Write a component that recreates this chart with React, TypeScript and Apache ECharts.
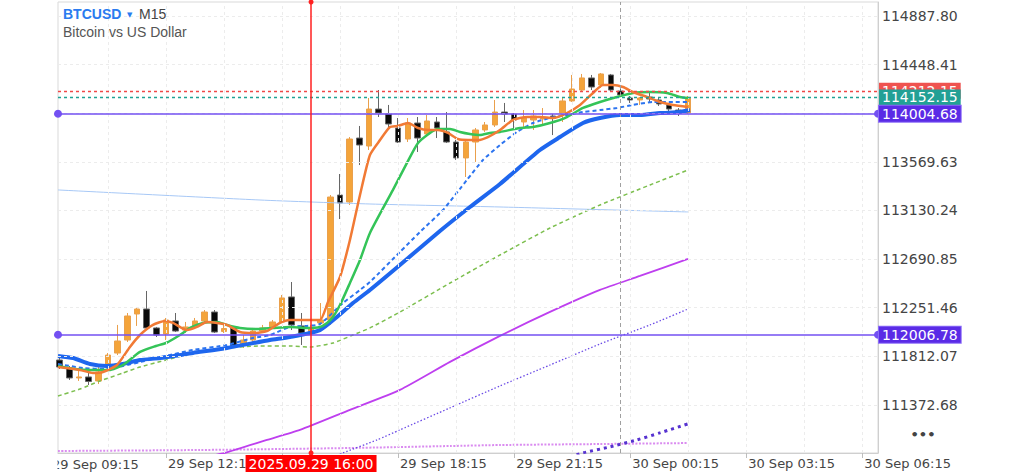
import React, { useEffect, useRef } from 'react';
import * as echarts from 'echarts';

// ---- axis ticks ----
const xTickIdx = [0, 12, 24, 36, 48, 60, 72, 84];
const xTickLabels = ['29 Sep 09:15', '29 Sep 12:15', '29 Sep 15:15', '29 Sep 18:15', '29 Sep 21:15', '30 Sep 00:15', '30 Sep 03:15', '30 Sep 06:15'];
const xShownIdx = [12, 36, 48, 60, 72, 84];
const xGridIdx = [6, 12, 18, 24, 30, 36, 42, 48, 54, 60, 66, 72, 78, 84];
const yTicks = [111372.68, 111812.07, 112251.46, 112690.85, 113130.24, 113569.63, 114008.02, 114448.41, 114887.8];
const yShown = [111372.68, 111812.07, 112251.46, 112690.85, 113130.24, 113569.63, 114448.41, 114887.8];

// ---- candles (bar index: 0 = 29 Sep 09:15, 15-minute bars) ----
const candleIdx = [1, 2, 3, 4, 5, 6, 7, 8, 9, 10, 11, 12, 13, 14, 15, 16, 17, 18, 19, 20, 21, 22, 23, 24, 25, 26, 27, 28, 29, 30, 31, 32, 33, 34, 35, 36, 37, 38, 39, 40, 41, 42, 43, 44, 45, 46, 47, 48, 49, 50, 51, 52, 53, 54, 55, 56, 57, 58, 59, 60, 61, 62, 63, 64, 65, 66];
const candleOpen = [111779, 111707, 111617, 111626, 111590, 111725, 111842, 111960, 112195, 112240, 112069, 112014, 112132, 112050, 112087, 112132, 112213, 112037, 112069, 111924, 111960, 112041, 112078, 112123, 112349, 112087, 112032, 112114, 112141, 113270, 113207, 113785, 113713, 114047, 114002, 113876, 113776, 113921, 113822, 113930, 113840, 113749, 113605, 113749, 113858, 113903, 114020, 114002, 113930, 113948, 113957, 113984, 114011, 114120, 114219, 114328, 114264, 114355, 114210, 114147, 114129, 114156, 114129, 114084, 114038, 114011];
const candleClose = [111716, 111617, 111626, 111585, 111671, 111824, 111951, 112177, 112240, 112069, 112005, 112141, 112041, 112078, 112132, 112213, 112032, 112064, 111906, 111960, 112041, 112069, 112123, 112340, 112096, 112023, 112060, 112141, 113252, 113198, 113776, 113722, 114047, 114011, 113912, 113749, 113921, 113785, 113939, 113876, 113749, 113605, 113749, 113858, 113903, 114020, 114002, 113948, 113966, 113984, 113975, 113966, 114120, 114228, 114328, 114246, 114364, 114219, 114174, 114129, 114147, 114138, 114093, 114047, 114016, 114152.15];
const candleLow = [111698, 111599, 111590, 111553, 111562, 111707, 111824, 111942, 112087, 112050, 111987, 111960, 112032, 112023, 112069, 112114, 112023, 112023, 111897, 111888, 111942, 112023, 112059, 112114, 112050, 111915, 112005, 112096, 112096, 113053, 113180, 113541, 113677, 113975, 113876, 113740, 113749, 113659, 113794, 113785, 113740, 113587, 113433, 113569, 113840, 113885, 113930, 113876, 113885, 113858, 113903, 113812, 113930, 114111, 114201, 114219, 114237, 114201, 114156, 114102, 114084, 114102, 114075, 114020, 113984, 114002];
const candleHigh = [111797, 111725, 111707, 111662, 111734, 111842, 112096, 112204, 112249, 112403, 112078, 112159, 112204, 112123, 112159, 112231, 112231, 112096, 112078, 112005, 112069, 112096, 112141, 112367, 112484, 112204, 112096, 112294, 113270, 113460, 113794, 113894, 114147, 114219, 114084, 113966, 113966, 113975, 113993, 113975, 114020, 113767, 113767, 113876, 113930, 114129, 114102, 114011, 114038, 114038, 114056, 114011, 114147, 114355, 114364, 114355, 114373, 114364, 114237, 114165, 114156, 114201, 114147, 114102, 114056, 114165];

// ---- moving averages, read as [bar index, price] ----
const maOrange = [[0.83, 111716], [3.1, 111689], [4.45, 111662], [5.48, 111671], [6.93, 111734], [8.27, 111897], [9.31, 112005], [10.65, 112096], [11.89, 112132], [12.72, 112114], [14.17, 112050], [15.2, 112078], [16.24, 112123], [17.27, 112114], [18.3, 112096], [19.65, 112032], [20.99, 112023], [22.44, 112041], [23.78, 112114], [24.82, 112141], [26.58, 112141], [27.92, 112141], [28.75, 112303], [29.99, 112529], [31.02, 112864], [32.06, 113270], [33.09, 113632], [34.13, 113767], [35.16, 113885], [35.99, 113894], [37.02, 113921], [38.06, 113876], [39.09, 113858], [40.12, 113858], [41.16, 113831], [42.19, 113776], [43.23, 113767], [44.26, 113767], [45.29, 113794], [46.54, 113858], [47.88, 113948], [49.33, 113975], [50.67, 113975], [52.02, 113966], [53.46, 114011], [54.81, 114084], [56.15, 114192], [57.19, 114264], [58.22, 114264], [59.26, 114246], [60.29, 114201], [61.74, 114156], [63.08, 114111], [64.43, 114084], [65.98, 114066]];
const maGreen = [[0.83, 111725], [2.59, 111698], [4.03, 111689], [6.1, 111689], [7.55, 111734], [9.31, 111852], [10.96, 111906], [12.0, 111933], [13.44, 112005], [14.48, 112069], [15.82, 112114], [17.27, 112123], [18.3, 112096], [19.65, 112069], [21.41, 112060], [23.06, 112069], [24.82, 112078], [26.58, 112069], [27.92, 112078], [28.65, 112114], [29.27, 112168], [29.99, 112276], [31.02, 112475], [32.06, 112683], [33.09, 112927], [35.47, 113316], [36.92, 113560], [38.06, 113740], [39.3, 113831], [40.12, 113867], [41.37, 113867], [42.4, 113840], [43.43, 113822], [44.47, 113813], [45.5, 113831], [46.54, 113840], [48.6, 113876], [49.95, 113885], [51.71, 113921], [53.46, 113975], [55.12, 114057], [56.88, 114111], [58.63, 114156], [60.29, 114192], [62.05, 114201], [63.81, 114192], [65.15, 114156], [65.98, 114147]];
const maBlueDashed = [[0.83, 111743], [3.41, 111707], [5.79, 111698], [7.55, 111725], [9.31, 111761], [12.0, 111816], [14.79, 111870], [18.3, 111915], [20.99, 111978], [22.75, 112005], [24.82, 112078], [26.58, 112087], [27.92, 112105], [30.3, 112294], [32.06, 112412], [33.09, 112484], [36.19, 112755], [38.26, 112936], [40.64, 113135], [43.12, 113406], [44.78, 113587], [46.54, 113722], [48.29, 113840], [49.95, 113921], [51.71, 113966], [53.46, 113993], [55.12, 114020], [56.88, 114038], [58.63, 114057], [60.29, 114084], [62.36, 114111], [64.43, 114111], [66.18, 114111]];
const maBlueThick = [[0.83, 111816], [2.38, 111797], [4.14, 111743], [5.89, 111725], [7.55, 111743], [9.31, 111779], [11.38, 111797], [14.79, 111843], [18.3, 111888], [22.75, 111960], [24.82, 111987], [27.92, 112050], [29.68, 112168], [31.33, 112294], [33.09, 112412], [36.19, 112638], [40.33, 112945], [43.43, 113162], [46.54, 113370], [50.67, 113677], [52.74, 113794], [55.12, 113921], [56.88, 113966], [58.94, 113993], [61.01, 113993], [63.08, 114011], [65.15, 114020], [66.18, 114038]];
const maGreenDashed = [[0.83, 111454], [3.1, 111517], [5.17, 111590], [7.55, 111662], [9.31, 111716], [12.0, 111779], [14.48, 111834], [18.3, 111888], [21.72, 111906], [24.82, 111906], [26.89, 111897], [29.27, 111933], [31.33, 112005], [33.09, 112069], [36.19, 112213], [41.37, 112475], [46.54, 112728], [51.71, 112972], [56.88, 113180], [62.05, 113361], [65.98, 113496]];
const maLightBlue = [[0.83, 113316], [21.72, 113225], [33.09, 113189], [46.54, 113162], [65.98, 113117]];
const maMagenta = [[15.51, 110894], [18.1, 110940], [22.44, 111057], [25.85, 111148], [31.02, 111329], [36.19, 111509], [41.37, 111762], [46.54, 111997], [51.71, 112214], [56.88, 112413], [61.01, 112539], [65.98, 112693]];
const maPurpleDotted = [[28.96, 110894], [30.3, 110940], [33.82, 111057], [36.19, 111148], [41.37, 111347], [46.54, 111545], [51.71, 111734], [56.88, 111924], [62.05, 112096], [65.98, 112240]];
const maPurpleThick = [[53.77, 110903], [55.12, 110940], [57.91, 110994], [60.7, 111057], [63.08, 111121], [65.98, 111202]];
const maPinkDotted = [[0.83, 110957], [15.51, 110966], [31.02, 110984], [41.37, 111002], [46.54, 111011], [56.88, 111020], [65.98, 111029]];

// ---- price levels / markers ----
const askPrice = 114212.15;
const bidPrice = 114152.15;
const levelPrices = [114004.68, 112006.78];
const markerIdx = 27;
const markerLabel = '2025.09.29 16:00';
const daySepIdx = 59;

const X_MIN = 0.83;
const X_MAX = 85.63;
const Y_MIN = 110938.9;
const Y_MAX = 115014.3;

const AXIS_FONT = '"DejaVu Sans", sans-serif';
const TITLE_FONT = '"Liberation Sans", Arial, sans-serif';

const line = (name: string, data: number[][], color: string, width: number, type: any, z: number) => ({
  name,
  type: 'line',
  data,
  color,
  showSymbol: false,
  symbol: 'none',
  smooth: 0.2,
  silent: true,
  z,
  lineStyle: { color, width, type, cap: 'butt' },
});

const tagLabel = (text: string, bg: string, distance: number, extra: any = {}) => ({
  show: true,
  position: 'end',
  formatter: text,
  color: '#ffffff',
  backgroundColor: bg,
  padding: [1, 3],
  fontSize: 14,
  lineHeight: 14,
  fontFamily: AXIS_FONT,
  distance,
  ...extra,
});

const hLevel = (name: string, value: number, color: string, lineType: any, z: number, label: any, symbol: any, symbolSize: number, width: number) => ({
  name,
  type: 'line',
  data: [],
  color,
  itemStyle: { color },
  z,
  markLine: {
    silent: true,
    symbol,
    symbolSize,
    itemStyle: { color },
    lineStyle: { color, type: lineType, width, opacity: 1 },
    label,
    data: [{ yAxis: value, lineStyle: { color, type: lineType, width, opacity: 1 } }],
  },
});

export default function App() {
  const ref = useRef<HTMLDivElement>(null);
  useEffect(() => {
    document.body.style.margin = '0';
    const chart = echarts.init(ref.current!, undefined, { renderer: 'svg' });
    const candleData = candleIdx.map((x, i) => [x, candleOpen[i], candleClose[i], candleLow[i], candleHigh[i]]);
    const option: any = {
      animation: false,
      textStyle: { fontFamily: AXIS_FONT },
      grid: { left: 58, right: 146, top: 2, bottom: 20, show: true, borderColor: '#d9d9d9', borderWidth: 1 },
      xAxis: {
        type: 'value',
        min: X_MIN,
        max: X_MAX,
        splitLine: { show: false },
        axisLine: { show: true, lineStyle: { color: '#cfcfcf' } },
        axisTick: { show: true, customValues: xTickIdx.filter((v) => v >= X_MIN), length: 5, lineStyle: { color: '#bdbdbd' } },
        axisLabel: {
          customValues: xShownIdx,
          formatter: (v: number) => xTickLabels[xTickIdx.indexOf(Math.round(v))] || '',
          align: 'left',
          margin: 4,
          padding: [0, 0, 0, 2],
          color: '#454545',
          fontFamily: AXIS_FONT,
          fontSize: 13,
        },
      },
      yAxis: {
        type: 'value',
        position: 'right',
        min: Y_MIN,
        max: Y_MAX,
        splitLine: { show: false },
        axisLine: { show: true, lineStyle: { color: '#cfcfcf' } },
        axisTick: { show: false },
        axisLabel: {
          customValues: yShown,
          formatter: (v: number) => v.toFixed(2),
          margin: 4,
          color: '#454545',
          fontFamily: AXIS_FONT,
          fontSize: 14,
        },
      },
      series: [
        {
          name: 'candles',
          type: 'candlestick',
          data: candleData,
          encode: { x: 0, y: [1, 2, 3, 4] },
          barWidth: 6,
          z: 2,
          silent: true,
          itemStyle: { color: '#F4A43A', color0: '#0a0a0a', borderColor: '#EAA04C', borderColor0: '#666666', borderWidth: 1 },
          markLine: {
            silent: true,
            symbol: 'none',
            label: { show: false },
            lineStyle: { color: '#ececec', type: [3, 3], width: 1 },
            data: [...yTicks.map((v) => ({ yAxis: v })), ...xGridIdx.map((v) => ({ xAxis: v }))],
          },
        },
        line('pink', maPinkDotted, '#DA8CF0', 2, [2, 1.5], 3),
        line('lightblue', maLightBlue, '#A7C8F6', 1, 'solid', 3),
        line('magenta', maMagenta, '#BE3FEF', 1.8, 'solid', 3),
        line('purpleDotted', maPurpleDotted, '#6B4BE6', 1.3, [1.5, 2], 3),
        line('purpleThick', maPurpleThick, '#5632D0', 3, [3, 4], 3),
        line('greenDashed', maGreenDashed, '#7DBF4F', 1.5, [4, 3], 3),
        line('blueDashed', maBlueDashed, '#2C74F0', 2, [4, 3], 3),
        line('blueThick', maBlueThick, '#1E66EE', 4, 'solid', 3),
        line('green', maGreen, '#34C458', 2.5, 'solid', 3),
        line('orange', maOrange, '#F17A35', 2.5, 'solid', 3),
        {
          name: 'daySep',
          type: 'line',
          data: [],
          color: '#a0a0a0',
          z: 4,
          markLine: {
            silent: true,
            symbol: 'none',
            label: { show: false },
            lineStyle: { color: '#a0a0a0', type: [4, 3], width: 1 },
            data: [{ xAxis: daySepIdx, lineStyle: { color: '#a0a0a0', type: [4, 3], width: 1 } }],
          },
        },
        hLevel('ask', askPrice, '#F04848', [3, 3], 5, tagLabel(askPrice.toFixed(2), '#EF5350', 1), 'none', 0, 1.3),
        hLevel('bid', bidPrice, '#1FA294', [3, 3], 6, tagLabel(bidPrice.toFixed(2), '#22A095', 1), 'none', 0, 1.3),
        ...levelPrices.map((v, i) =>
          hLevel('level' + i, v, '#7350F2', 'solid', 7, tagLabel(v.toFixed(2), '#5A2BE6', 1, { borderColor: '#8B6CF7', borderWidth: 1 }), ['circle', 'circle'], 8, 1.5)
        ),
        {
          name: 'marker',
          type: 'line',
          data: [],
          color: '#FF2020',
          itemStyle: { color: '#FF2020' },
          z: 8,
          markLine: {
            silent: true,
            symbol: ['circle', 'circle'],
            symbolSize: 5,
            itemStyle: { color: '#FF2020' },
            lineStyle: { color: '#FF2020', type: 'solid', width: 1.5, opacity: 1 },
            label: { show: true, position: 'start', formatter: markerLabel, color: '#fff', backgroundColor: '#FF0000', padding: [2, 3, 1, 3], fontSize: 14, lineHeight: 14, fontFamily: AXIS_FONT, distance: 2 },
            data: [{ xAxis: markerIdx, lineStyle: { color: '#FF2020', type: 'solid', width: 1.5, opacity: 1 } }],
          },
        },
      ],
      graphic: [
        { type: 'text', x: 63, y: 13.5, z: 10, style: { text: 'BTCUSD', fill: '#2A7BF0', font: `bold 14px ${TITLE_FONT}`, verticalAlign: 'middle' } },
        { type: 'text', x: 127, y: 14.5, z: 10, style: { text: '▼', fill: '#2A7BF0', font: `7px ${AXIS_FONT}`, verticalAlign: 'middle' } },
        { type: 'text', x: 139, y: 13.5, z: 10, style: { text: 'M15', fill: '#444444', font: `14px ${TITLE_FONT}`, verticalAlign: 'middle' } },
        { type: 'text', x: 63, y: 31.5, z: 10, style: { text: 'Bitcoin vs US Dollar', fill: '#555555', font: `14px ${TITLE_FONT}`, verticalAlign: 'middle' } },
        { type: 'text', x: 923, y: 434, z: 10, style: { text: '•••', fill: '#444444', font: `bold 13px ${AXIS_FONT}`, align: 'center', verticalAlign: 'middle' } },
        { type: 'text', x: 52, y: 464, z: 10, style: { text: xTickLabels[0], fill: '#454545', font: `13px ${AXIS_FONT}`, verticalAlign: 'middle' } },
        { type: 'rect', z: 11, shape: { x: 0, y: 454, width: 57.5, height: 19 }, style: { fill: '#ffffff' } },
      ],
    };
    chart.setOption(option);
    return () => chart.dispose();
  }, []);
  return <div ref={ref} style={{ width: 1024, height: 473 }} />;
}
